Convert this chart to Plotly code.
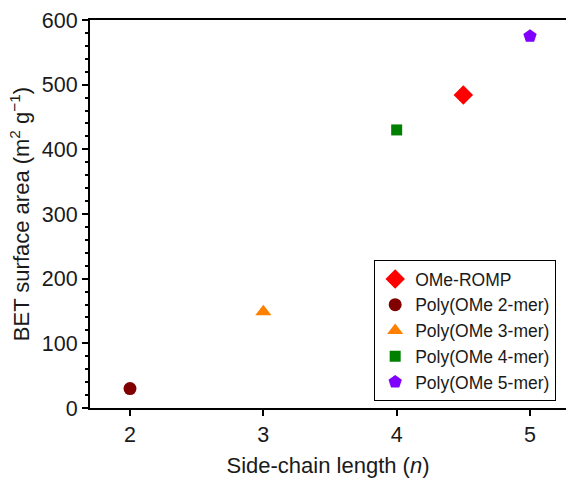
import plotly.graph_objects as go

names = ["OMe-ROMP", "Poly(OMe 2-mer)", "Poly(OMe 3-mer)", "Poly(OMe 4-mer)", "Poly(OMe 5-mer)"]
x_vals = [4.5, 2, 3, 4, 5]
y_vals = [484, 30, 149, 430, 575]
colors = ["#FF0000", "#800000", "#FF8000", "#008000", "#8000FF"]
symbols = ["diamond", "circle", "triangle-up", "square", "pentagon"]
sizes = [15, 13, 14, 11, 14]

fig = go.Figure()
for n, xv, yv, c, s, sz in zip(names, x_vals, y_vals, colors, symbols, sizes):
    fig.add_trace(go.Scatter(x=[xv], y=[yv], mode="markers", name=n,
                             marker=dict(color=c, symbol=s, size=sz, line=dict(width=0))))

font = "Liberation Sans, Arial, sans-serif"
fig.update_layout(
    width=566, height=478,
    margin=dict(l=90, r=0, t=20, b=70),
    plot_bgcolor="white", paper_bgcolor="white",
    font=dict(family=font, size=21.5, color="#1a1a1a"),
    showlegend=True,
    legend=dict(x=0.597, y=0.018, xanchor="left", yanchor="bottom",
                bordercolor="black", borderwidth=1, bgcolor="white",
                font=dict(size=17.5, family=font, color="#1a1a1a"), tracegroupgap=0, itemsizing="trace"),
    xaxis=dict(range=[1.7, 5.27], tickvals=[2, 3, 4, 5], showgrid=False, zeroline=False,
               showline=True, linecolor="black", linewidth=2, mirror=True,
               ticks="outside", ticklen=6, tickwidth=2, tickcolor="black",
               title=dict(text="Side-chain length (<i>n</i>)", standoff=14, font=dict(size=22))),
    yaxis=dict(range=[0, 600], tickvals=[0, 100, 200, 300, 400, 500, 600], showgrid=False, zeroline=False,
               showline=True, linecolor="black", linewidth=2,
               ticks="outside", ticklen=6, tickwidth=2, tickcolor="black",
               minor=dict(dtick=20, ticks="outside", ticklen=3, tickwidth=2, tickcolor="black"),
               title=dict(text="BET surface area (m<sup>2</sup> g<sup>−1</sup>)", standoff=6, font=dict(size=22))),
)
fig.write_html("out.html")
